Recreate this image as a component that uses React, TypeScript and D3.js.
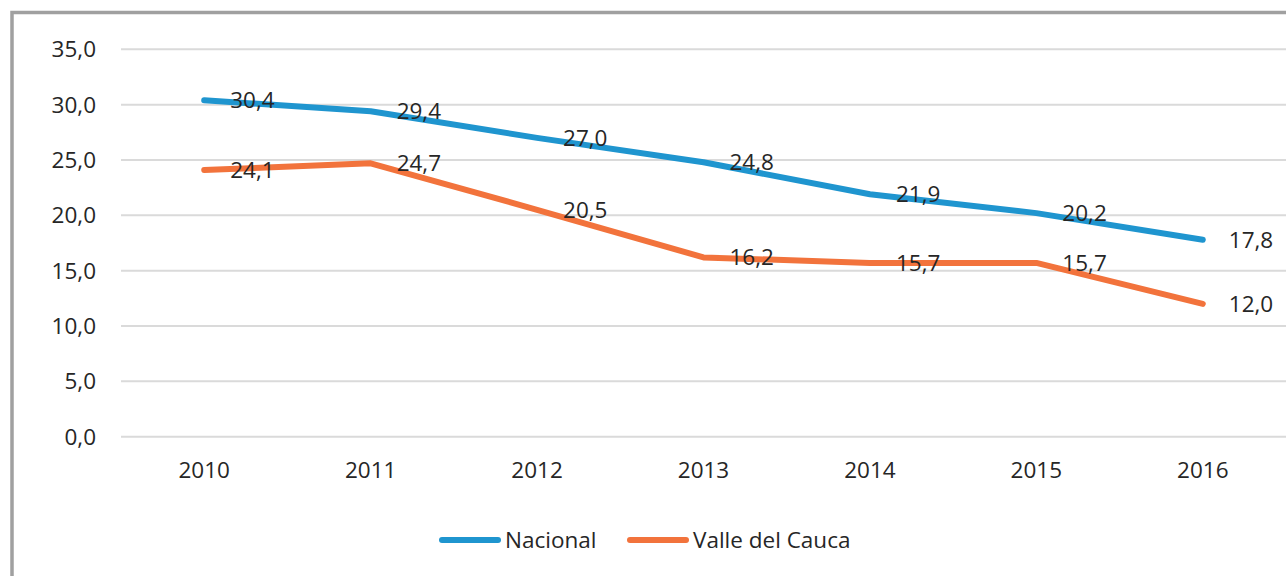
import React from "react";
import * as d3 from "d3";

const years = ["2010", "2011", "2012", "2013", "2014", "2015", "2016"];
const nacional = [30.4, 29.4, 27.0, 24.8, 21.9, 20.2, 17.8];
const valle = [24.1, 24.7, 20.5, 16.2, 15.7, 15.7, 12.0];
const yTicks = [0, 5, 10, 15, 20, 25, 30, 35];
const seriesNames = ["Nacional", "Valle del Cauca"];
const seriesColors = ["#1f95cf", "#f2733c"];

const W = 1286;
const H = 576;
const FONT = "'Open Sans', 'Noto Sans', sans-serif";
const TXT = "#262626";

export default function App() {
  const x = d3.scaleBand<string>().domain(years).range([121, 1286]);
  const y = d3.scaleLinear().domain([0, 35]).range([436.7, 49.3]);
  const fmt = (v: number) => v.toFixed(1).replace(".", ",");
  const line = d3
    .line<number>()
    .x((_, i) => (x(years[i]) as number) + x.bandwidth() / 2)
    .y((d) => y(d));
  const series = [nacional, valle];

  return (
    <svg
      width={W}
      height={H}
      style={{ position: "absolute", left: 0, top: 0, background: "#fff" }}
      fontFamily={FONT}
    >
      <rect x={12} y={12.5} width={W + 20} height={H + 20} fill="#fff" stroke="#a0a0a0" strokeWidth={3.5} />
      {yTicks.map((t) => (
        <g key={t}>
          <line x1={121} x2={1286} y1={y(t)} y2={y(t)} stroke="#dadada" strokeWidth={2} />
          <text x={96} y={y(t)} dy="0.36em" textAnchor="end" fontSize={22.5} fill={TXT}>
            {fmt(t)}
          </text>
        </g>
      ))}
      {years.map((yr) => (
        <text
          key={yr}
          x={(x(yr) as number) + x.bandwidth() / 2}
          y={478}
          textAnchor="middle"
          fontSize={22.5}
          fill={TXT}
        >
          {yr}
        </text>
      ))}
      {series.map((s, si) => (
        <path
          key={si}
          d={line(s) || ""}
          fill="none"
          stroke={seriesColors[si]}
          strokeWidth={6}
          strokeLinecap="round"
          strokeLinejoin="round"
        />
      ))}
      {series.map((s, si) =>
        s.map((v, i) => (
          <text
            key={si + "-" + i}
            x={(x(years[i]) as number) + x.bandwidth() / 2 + 26}
            y={y(v)}
            dy="0.36em"
            fontSize={22.5}
            fill={TXT}
          >
            {fmt(v)}
          </text>
        ))
      )}
      {seriesNames.map((n, i) => {
        const lx = i === 0 ? 442 : 630;
        return (
          <g key={n}>
            <line x1={lx} x2={lx + 56} y1={540} y2={540} stroke={seriesColors[i]} strokeWidth={6} strokeLinecap="round" />
            <text x={lx + 63} y={540} dy="0.36em" fontSize={22.5} fill={TXT}>
              {n}
            </text>
          </g>
        );
      })}
    </svg>
  );
}
